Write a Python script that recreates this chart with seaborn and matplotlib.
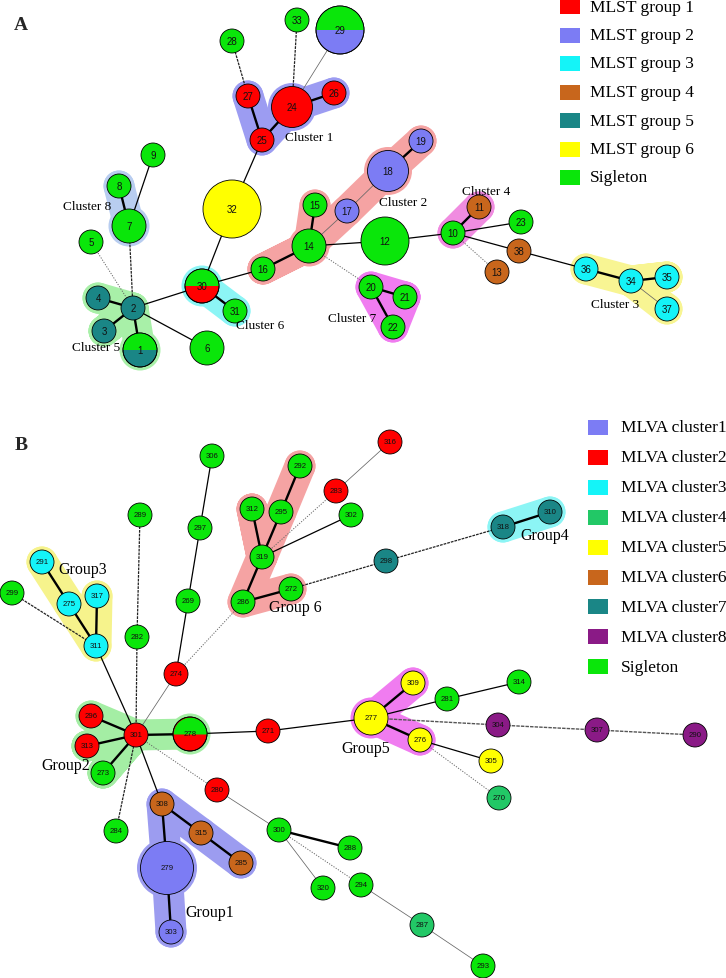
import numpy as np
import pandas as pd
import matplotlib
matplotlib.use("Agg")
import matplotlib.pyplot as plt
import seaborn as sns
from matplotlib.path import Path
from matplotlib.patches import Rectangle

sns.set_theme(style="white")
plt.rcParams["font.family"] = ["Liberation Sans", "DejaVu Sans"]

# ---------------- Panel A (MLST) ----------------
a_ids = ["1", "2", "3", "4", "5", "6", "7", "8", "9", "10", "11", "12", "13", "14",
         "15", "16", "17", "18", "19", "20", "21", "22", "23", "24", "25", "26", "27",
         "28", "29", "30", "31", "32", "33", "34", "35", "36", "37", "38"]
a_x = [140, 133, 104, 98, 91, 207, 129, 119, 153, 453, 479, 385, 497, 309,
       315, 263, 347, 388, 421, 371, 405, 393, 521, 292, 262, 334, 248,
       232, 340, 202, 235, 232, 297, 631, 667, 586, 667, 519]
a_y = [351, 309, 332, 299, 243, 349, 227, 187, 156, 234, 208, 242, 273, 247,
       206, 270, 212, 172, 142, 288, 298, 328, 223, 108, 141, 94, 97,
       42, 31, 287, 312, 210, 21, 282, 278, 270, 310, 252]
a_level = [2, 1, 1, 1, 1, 2, 2, 1, 1, 1, 1, 4, 1, 2,
           1, 1, 1, 3, 1, 1, 1, 1, 1, 3, 1, 1, 1,
           1, 4, 2, 1, 6, 1, 1, 1, 1, 1, 1]
a_group = ["MLST group 5", "MLST group 5", "MLST group 5", "MLST group 5", "Sigleton", "Sigleton",
           "Sigleton", "Sigleton", "Sigleton", "Sigleton", "MLST group 4", "Sigleton", "MLST group 4",
           "Sigleton", "Sigleton", "Sigleton", "MLST group 2", "MLST group 2", "MLST group 2",
           "Sigleton", "Sigleton", "Sigleton", "Sigleton", "MLST group 1", "MLST group 1",
           "MLST group 1", "MLST group 1", "Sigleton", "MLST group 2", "MLST group 1", "Sigleton",
           "MLST group 6", "Sigleton", "MLST group 3", "MLST group 3", "MLST group 3", "MLST group 3",
           "MLST group 4"]
# nodes shared with singletons (upper half)
a_split = ["1", "29", "30"]

a_edges = [("28", "27", "dash"), ("33", "24", "dash"), ("29", "24", "thin"), ("27", "25", "thick"),
           ("25", "24", "thick"), ("24", "26", "thick"), ("25", "32", "solid"), ("9", "7", "solid"),
           ("8", "7", "thick"), ("7", "2", "dash"), ("5", "2", "dot"), ("4", "2", "thick"),
           ("3", "2", "thick"), ("1", "2", "thick"), ("6", "2", "solid"), ("2", "30", "solid"),
           ("32", "30", "solid"), ("30", "31", "thick"), ("30", "16", "solid"), ("16", "14", "thick"),
           ("15", "14", "thick"), ("14", "17", "thin"), ("17", "18", "thin"), ("18", "19", "thick"),
           ("14", "12", "solid"), ("14", "20", "dot"), ("20", "21", "thick"), ("20", "22", "thick"),
           ("12", "10", "solid"), ("10", "11", "thick"), ("10", "23", "solid"), ("10", "38", "solid"),
           ("10", "13", "dot"), ("38", "36", "solid"), ("36", "34", "thick"), ("34", "35", "thick"),
           ("34", "37", "thin")]

a_clusters = ["Cluster 1", "Cluster 2", "Cluster 3", "Cluster 4", "Cluster 5", "Cluster 6",
              "Cluster 7", "Cluster 8"]
a_cluster_paths = [["27", "25", "24", "26"],
                   ["15", "14", "16", "14", "17", "18", "19"],
                   ["36", "34", "35", "34", "37"],
                   ["10", "11"],
                   ["4", "2", "3", "2", "1"],
                   ["30", "31"],
                   ["21", "20", "22", "21"],
                   ["8", "7"]]
a_cluster_label_xy = [(309, 138), (403, 203), (615, 305), (486, 192), (96, 348), (260, 326),
                      (352, 319), (87, 207)]

a_legend = ["MLST group 1", "MLST group 2", "MLST group 3", "MLST group 4", "MLST group 5",
            "MLST group 6", "Sigleton"]

# ---------------- Panel B (MLVA) ----------------
b_ids = ["306", "292", "283", "312", "295", "302", "289", "297", "319", "291", "317", "272",
         "299", "275", "269", "286", "282", "311", "274", "296", "301", "278", "271", "313",
         "273", "280", "308", "284", "300", "315", "288", "279", "285", "320", "303", "316",
         "310", "318", "298", "309", "314", "281", "277", "304", "307", "290", "276", "305",
         "270", "294", "287", "293"]
b_x = [212, 300, 336, 252, 281, 351, 140, 200, 262, 42, 97, 291,
       12, 69, 188, 243, 137, 96, 176, 91, 136, 190, 268, 87,
       103, 217, 162, 116, 279, 201, 350, 167, 241, 323, 171, 390,
       550, 503, 386, 413, 519, 447, 371, 498, 597, 695, 420, 491,
       499, 361, 422, 483]
b_y = [457, 467, 492, 510, 513, 516, 516, 529, 558, 563, 597, 590,
       594, 605, 602, 603, 638, 647, 675, 717, 736, 735, 732, 747,
       774, 791, 805, 832, 831, 834, 849, 869, 864, 889, 933, 443,
       513, 528, 562, 684, 683, 700, 719, 726, 731, 736, 741, 762,
       799, 886, 926, 967]
b_level = [1] * 52
b_level[b_ids.index("277")] = 2
b_level[b_ids.index("278")] = 2
b_level[b_ids.index("279")] = 5
b_cat = {"MLVA cluster1": ["279", "303"],
         "MLVA cluster2": ["316", "283", "274", "296", "301", "313", "271", "280", "278"],
         "MLVA cluster3": ["291", "275", "317", "311"],
         "MLVA cluster4": ["270", "287"],
         "MLVA cluster5": ["277", "309", "276", "305"],
         "MLVA cluster6": ["308", "315", "285"],
         "MLVA cluster7": ["298", "318", "310"],
         "MLVA cluster8": ["304", "307", "290"]}
b_group = []
for nid in b_ids:
    g = "Sigleton"
    for k, v in b_cat.items():
        if nid in v:
            g = k
    b_group.append(g)
b_split = ["278"]

b_edges = [("306", "297", "solid"), ("297", "269", "solid"), ("269", "274", "solid"),
           ("274", "301", "thin"), ("274", "286", "dot"), ("289", "282", "dash"),
           ("282", "301", "dash"), ("292", "295", "thick"), ("295", "319", "thick"),
           ("312", "319", "thick"), ("319", "286", "thick"), ("286", "272", "thick"),
           ("319", "283", "dot"), ("283", "316", "thin"), ("319", "302", "solid"),
           ("272", "298", "dash"), ("298", "318", "dash"), ("318", "310", "thick"),
           ("299", "311", "dash"), ("291", "275", "thick"), ("275", "311", "thick"),
           ("317", "311", "thick"), ("311", "301", "solid"), ("296", "301", "thick"),
           ("313", "301", "thick"), ("273", "301", "thick"), ("301", "278", "thick"),
           ("278", "271", "solid"), ("301", "284", "dash"), ("301", "308", "solid"),
           ("301", "280", "dot"), ("280", "300", "thin"), ("308", "279", "thick"),
           ("279", "303", "thick"), ("308", "315", "thick"), ("315", "285", "thick"),
           ("300", "288", "thick"), ("300", "320", "thin"), ("300", "294", "dot"),
           ("294", "287", "thin"), ("287", "293", "thin"), ("271", "277", "solid"),
           ("277", "309", "thick"), ("277", "276", "thick"), ("277", "281", "solid"),
           ("281", "314", "solid"), ("277", "304", "gdash"), ("304", "307", "gdash"),
           ("307", "290", "gdash"), ("276", "305", "solid"), ("276", "270", "dot")]

b_clusters = ["Group1", "Group2", "Group3", "Group4", "Group5", "Group 6"]
b_cluster_paths = [["303", "279", "308", "315", "285"],
                   ["296", "301", "313", "301", "273", "301", "278"],
                   ["291", "275", "311", "317"],
                   ["318", "310"],
                   ["309", "277", "276"],
                   ["292", "295", "319", "312", "319", "286", "272"]]
b_cluster_label_xy = [(210, 913), (66, 766), (83, 570), (545, 536), (366, 749), (295, 608)]

b_legend = ["MLVA cluster1", "MLVA cluster2", "MLVA cluster3", "MLVA cluster4", "MLVA cluster5",
            "MLVA cluster6", "MLVA cluster7", "MLVA cluster8", "Sigleton"]

# ---------------- styling ----------------
palette = {"MLST group 1": "#ff0000", "MLST group 2": "#7c7cf4", "MLST group 3": "#14f4f8",
           "MLST group 4": "#c8661c", "MLST group 5": "#1a8686", "MLST group 6": "#ffff00",
           "Sigleton": "#0ae60a",
           "MLVA cluster1": "#7c7cf4", "MLVA cluster2": "#ff0000", "MLVA cluster3": "#14f4f8",
           "MLVA cluster4": "#22c866", "MLVA cluster5": "#ffff00", "MLVA cluster6": "#c8661c",
           "MLVA cluster7": "#1a8686", "MLVA cluster8": "#8a1a86"}
a_shade = ["#9c9cf2", "#f5a3a3", "#f8f593", "#f08ce0", "#a8f0a8", "#8cf5f5", "#f07cf0", "#b8cdf0"]
b_shade = ["#9c9cf0", "#a4eea4", "#f6f38c", "#8cf5f5", "#f07cf0", "#f5a3a3"]
level_r = {1: 12, 2: 17, 3: 20.5, 4: 24, 5: 26.5, 6: 29}
PX = 0.72  # points per pixel at 100 dpi
edge_style = {"thick": dict(color="black", lw=1.7, ls="-"),
              "solid": dict(color="black", lw=0.9, ls="-"),
              "dash": dict(color="#222222", lw=0.9, ls=(0, (2.2, 0.8))),
              "gdash": dict(color="#555555", lw=1.0, ls=(0, (2.5, 0.8))),
              "thin": dict(color="#666666", lw=0.55, ls="-"),
              "dot": dict(color="#666666", lw=0.7, ls=(0, (1.2, 1.5)))}

fig = plt.figure(figsize=(7.26, 9.79), dpi=100)
ax = fig.add_axes([0, 0, 1, 1])

top_half = Path.wedge(0, 180)


def draw_panel(ids, xs, ys, levels, groups, split, edges, cpaths, cshade, clabels, clxy,
               label_fs, cl_fs):
    df = pd.DataFrame({"id": ids, "x": xs, "y": ys, "level": levels, "group": groups})
    df["r"] = df["level"].map(level_r)
    pos = df.set_index("id")
    # cluster shading
    for path, col in zip(cpaths, cshade):
        p = pos.loc[path]
        ax.plot(p["x"], p["y"], color=col, lw=2 * 15.5 * PX, solid_capstyle="round",
                solid_joinstyle="round", zorder=1)
        m = pos.loc[list(dict.fromkeys(path))]
        ax.scatter(m["x"], m["y"], s=((m["r"] + 3.5) * 2 * PX) ** 2, color=col, lw=0, zorder=1)
    # edges
    for a, b, st in edges:
        ax.plot([pos.loc[a, "x"], pos.loc[b, "x"]], [pos.loc[a, "y"], pos.loc[b, "y"]],
                zorder=2, **edge_style[st])
    # nodes
    sizes = {lv: (2 * r * PX) ** 2 for lv, r in level_r.items()}
    sns.scatterplot(data=df, x="x", y="y", hue="group", palette=palette, size="level",
                    sizes=sizes, edgecolor="black", linewidth=0.6, legend=False, ax=ax,
                    zorder=3)
    sp = df[df["id"].isin(split)]
    if len(sp):
        ax.scatter(sp["x"], sp["y"], s=((2 * sp["r"] - 0.4) * PX) ** 2, marker=top_half,
                   color=palette["Sigleton"], lw=0, zorder=4)
        ax.scatter(sp["x"], sp["y"], s=(2 * sp["r"] * PX) ** 2, facecolors="none",
                   edgecolors="black", lw=0.6, zorder=4)
    for _, row in df.iterrows():
        ax.text(row["x"], row["y"], row["id"], ha="center", va="center", fontsize=label_fs,
                color="#111111", zorder=5)
    for txt, (lx, ly) in zip(clabels, clxy):
        ax.text(lx, ly, txt, ha="center", va="center", fontsize=cl_fs,
                family=["Liberation Serif", "DejaVu Serif"], color="black", zorder=6)


draw_panel(a_ids, a_x, a_y, a_level, a_group, a_split, a_edges, a_cluster_paths, a_shade,
           a_clusters, a_cluster_label_xy, 7, 9.5)
draw_panel(b_ids, b_x, b_y, b_level, b_group, b_split, b_edges, b_cluster_paths, b_shade,
           b_clusters, b_cluster_label_xy, 5.6, 11.5)


def draw_legend(labels, x0, y0, dy, tx):
    for i, lab in enumerate(labels):
        yc = y0 + i * dy
        ax.add_patch(Rectangle((x0, yc - 7.5), 20, 15, facecolor=palette[lab], edgecolor="none",
                               zorder=5))
        ax.text(tx, yc, lab, ha="left", va="center", fontsize=12.5,
                family=["Liberation Serif", "DejaVu Serif"], color="black", zorder=6)


draw_legend(a_legend, 560, 7.5, 28.5, 590)
draw_legend(b_legend, 588, 428.5, 29.9, 621)

ax.text(21, 26, "A", ha="center", va="center", fontsize=14, fontweight="bold",
        family=["Liberation Serif", "DejaVu Serif"])
ax.text(21, 446, "B", ha="center", va="center", fontsize=14, fontweight="bold",
        family=["Liberation Serif", "DejaVu Serif"])

ax.set_xlim(0, 726)
ax.set_ylim(979, 0)
ax.axis("off")
fig.savefig("out.png", dpi=100)
